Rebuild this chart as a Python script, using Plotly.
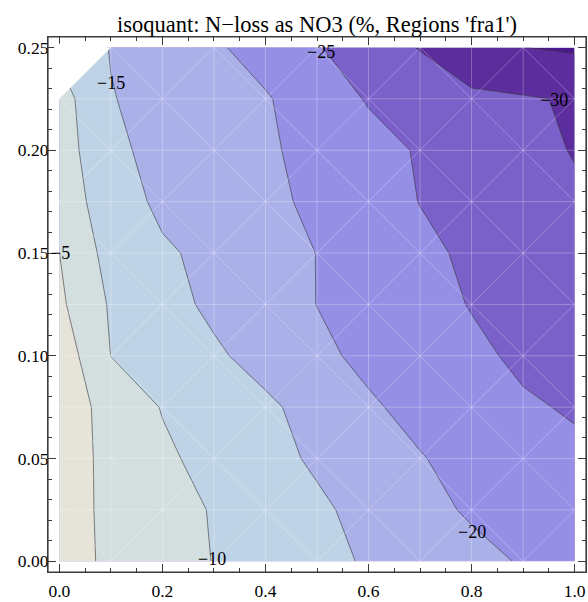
import plotly.graph_objects as go

# ---- data ----
X = [0.0, 0.1, 0.2, 0.3, 0.4, 0.5, 0.6, 0.7, 0.8, 0.9, 1.0]
Y = [0.0, 0.025, 0.05, 0.075, 0.1, 0.125, 0.15, 0.175, 0.2, 0.225, 0.25]
Z = [
    [-3.42, -5.66, -7.91, -10.13, -11.91, -13.70, -15.45, -17.08, -18.71, -20.34, -21.97],
    [-3.45, -5.76, -8.08, -10.33, -12.28, -14.22, -16.36, -18.64, -20.53, -21.87, -23.20],
    [-2.94, -6.06, -9.16, -11.51, -13.57, -15.64, -17.71, -19.77, -21.42, -23.00, -24.20],
    [-2.53, -6.51, -10.24, -12.21, -14.19, -16.65, -19.44, -21.25, -22.80, -24.50, -25.40],
    [-1.94, -10.05, -12.17, -14.31, -16.65, -19.08, -20.98, -22.57, -24.16, -25.75, -27.30],
    [-4.12, -10.53, -13.39, -15.91, -17.98, -20.05, -21.77, -23.51, -25.20, -26.60, -28.00],
    [-4.98, -11.80, -14.24, -16.40, -18.23, -20.06, -22.04, -24.03, -25.77, -27.28, -28.80],
    [-7.69, -12.09, -16.20, -17.28, -18.99, -20.86, -22.98, -25.10, -26.48, -27.90, -29.30],
    [-7.52, -14.00, -16.40, -17.73, -19.39, -21.32, -23.41, -25.39, -27.01, -28.62, -30.24],
    [-7.91, -14.80, -16.50, -17.99, -19.59, -22.53, -25.36, -26.69, -29.30, -29.60, -30.40],
    [-11.00, -15.21, -17.27, -19.34, -21.90, -24.69, -27.50, -30.26, -32.61, -34.95, -35.60],
]
LEVELS = [-35, -30, -25, -20, -15, -10, -5]
BAND_COLORS = ["#4a178c", "#5c2d9d", "#7a60c9", "#958fe6", "#aab0e8",
               "#bfd3e7", "#d3dedf", "#e6e3d8"]
LABEL_TEXT = ["\u22125", "\u221210", "\u221215", "\u221220", "\u221225", "\u221230"]
TITLE = "isoquant: N\u2212loss as NO3 (%, Regions 'fra1')"

FONT = "Liberation Serif"
FRAME = "#3a3a3a"

n = len(BAND_COLORS)
colorscale = [[k / (n - 1), c] for k, c in enumerate(BAND_COLORS)]

fig = go.Figure()
fig.add_trace(go.Contour(
    x=X, y=Y, z=Z,
    contours=dict(start=LEVELS[0], end=LEVELS[-1], size=LEVELS[1] - LEVELS[0],
                  coloring="fill", showlabels=False),
    colorscale=colorscale, showscale=False,
    line=dict(color="rgba(55,55,55,0.6)", width=1, smoothing=0),
    hoverinfo="skip",
))

# mesh (rectangular grid + union-jack diagonals)
mx, my = [], []
for yv in Y:
    mx += [X[0], X[-1], None]; my += [yv, yv, None]
for xv in X:
    mx += [xv, xv, None]; my += [Y[0], Y[-1], None]
for j in range(len(Y) - 1):
    for i in range(len(X) - 1):
        if (i + j) % 2 == 1:
            mx += [X[i], X[i + 1], None]; my += [Y[j], Y[j + 1], None]
        else:
            mx += [X[i + 1], X[i], None]; my += [Y[j], Y[j + 1], None]
fig.add_trace(go.Scatter(x=mx, y=my, mode="lines",
                         line=dict(color="rgba(255,255,255,0.28)", width=1),
                         hoverinfo="skip", showlegend=False))

# missing corner of the data hull
fig.add_shape(type="path",
              path=f"M {X[0]},{Y[-2]} L {X[1]},{Y[-1]} L {X[0] - 0.01},{Y[-1] + 0.002} L {X[0] - 0.01},{Y[-2]} Z",
              fillcolor="white", line=dict(width=0), layer="above")
# frame
fig.add_shape(type="rect", xref="paper", yref="paper", x0=0, x1=1, y0=0, y1=1,
              line=dict(color=FRAME, width=1.2), fillcolor="rgba(0,0,0,0)", layer="above")

label_pos = [(0.003, 0.15), (0.2953, 0.0013), (0.0996, 0.2327),
             (0.8006, 0.0145), (0.507, 0.2479), (0.96, 0.2245)]
for t, (ax_, ay_) in zip(LABEL_TEXT, label_pos):
    fig.add_annotation(x=ax_, y=ay_, text=t, showarrow=False,
                       xanchor="center", yanchor="middle",
                       font=dict(family=FONT, size=18, color="black"))

axis_common = dict(ticks="inside", ticklen=8, tickwidth=1.2, tickcolor=FRAME,
                   showline=True, linecolor=FRAME, linewidth=1.2, mirror="allticks",
                   showgrid=False, zeroline=False, layer="above traces",
                   tickfont=dict(family=FONT, size=17.5, color="black"))
fig.update_xaxes(range=[-0.022, 1.022], tick0=0, dtick=0.2, tickformat=".1f",
                 minor=dict(dtick=0.05, tick0=0, ticks="inside", ticklen=4,
                            tickwidth=1.2, tickcolor=FRAME, showgrid=False),
                 ticklabelstandoff=3,
                 **axis_common)
fig.update_yaxes(range=[-0.0052, 0.2551], tick0=0, dtick=0.05, tickformat=".2f",
                 minor=dict(dtick=0.01, tick0=0, ticks="inside", ticklen=4,
                            tickwidth=1.2, tickcolor=FRAME, showgrid=False),
                 ticklabelstandoff=-5,
                 **axis_common)

fig.update_layout(
    width=588, height=602,
    margin=dict(l=48, r=1, t=37, b=27),
    paper_bgcolor="white", plot_bgcolor="white",
    title=dict(text=TITLE, x=0.5, xref="paper", y=1 - 24 / 602, yref="container",
               xanchor="center", yanchor="middle",
               font=dict(family=FONT, size=22.5, color="black")),
    showlegend=False,
)

fig.write_html("out.html")
